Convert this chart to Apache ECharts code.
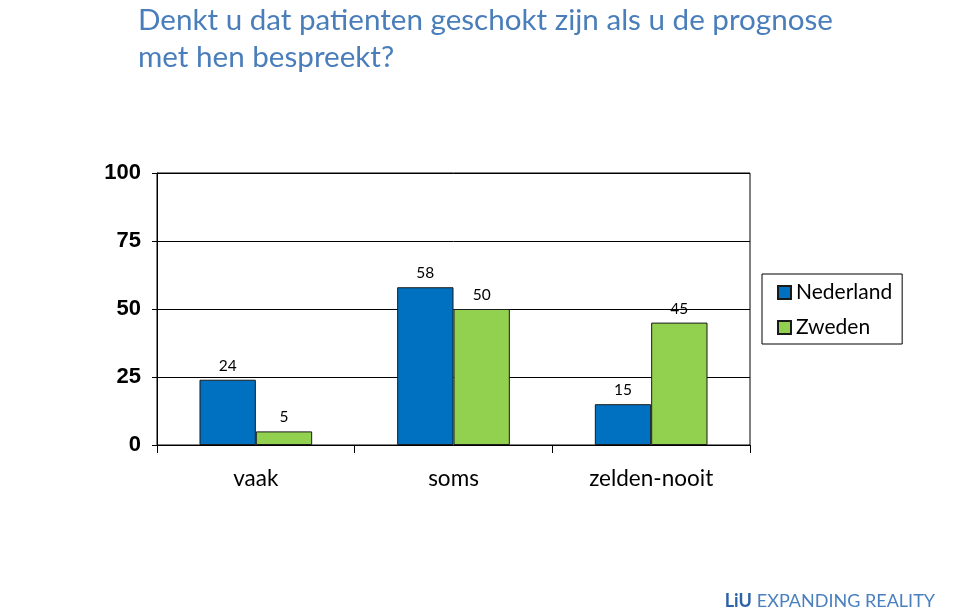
<!DOCTYPE html>
<html>
<head>
<meta charset="utf-8">
<script src="https://cdn.jsdelivr.net/npm/echarts@6/dist/echarts.min.js"></script>
<style>html,body{margin:0;padding:0;background:#fff}#c{width:960px;height:612px}</style>
</head>
<body>
<div id="c"></div>
<script>
const categories = ['vaak', 'soms', 'zelden-nooit'];
const nederland = [24, 58, 15];
const zweden = [5, 50, 45];
const seriesNames = ['Nederland', 'Zweden'];
const yTicks = [0, 25, 50, 75, 100];
const titleText = 'Denkt u dat patienten geschokt zijn als u de prognose\nmet hen bespreekt?';

const chart = echarts.init(document.getElementById('c'), null, {renderer: 'canvas'});
const labelStyle = {show: true, position: 'top', distance: 6, color: '#000', fontFamily: 'Lato', fontSize: 15.5};
chart.setOption({
  animation: false,
  backgroundColor: '#fff',
  title: [{
    text: titleText,
    left: 133, top: -3,
    textStyle: {color: '#4a7ebb', fontFamily: 'Lato', fontWeight: 'normal', fontSize: 29.6, lineHeight: 37}
  }, {
    text: '{a|LiU} {b|EXPANDING REALITY}',
    right: 20, bottom: -3,
    textStyle: {fontWeight: 'normal', rich: {
      a: {color: '#2c62a6', fontFamily: 'Lato', fontWeight: 'bold', fontSize: 18},
      b: {color: '#4a80bf', fontFamily: 'Lato', fontWeight: 'normal', fontSize: 18}
    }}
  }],
  legend: {
    orient: 'vertical', left: 762, top: 274,
    data: seriesNames,
    borderColor: '#000', borderWidth: 1,
    padding: [8, 10, 6, 15],
    itemWidth: 13, itemHeight: 13, itemGap: 14,
    icon: 'rect',
    textStyle: {fontFamily: 'Lato', fontSize: 21, color: '#000'}
  },
  grid: {left: 157, right: 210, top: 173, bottom: 167, show: true, borderColor: '#000', borderWidth: 1},
  xAxis: {
    type: 'category', data: categories,
    axisLine: {lineStyle: {color: '#000'}},
    axisTick: {show: true, length: 8, lineStyle: {color: '#000'}},
    axisLabel: {margin: 22, fontFamily: 'Lato', fontSize: 22.5, color: '#000'}
  },
  yAxis: {
    type: 'value', min: 0, max: 100, interval: 25,
    axisLine: {show: true, lineStyle: {color: '#000'}},
    axisTick: {show: true, length: 5, lineStyle: {color: '#000'}},
    splitLine: {lineStyle: {color: '#000', width: 1}},
    axisLabel: {margin: 16, fontFamily: 'Liberation Sans', fontWeight: 'bold', fontSize: 22, color: '#000',
      formatter: v => yTicks.includes(v) ? String(v) : ''}
  },
  series: [{
    name: seriesNames[0], type: 'bar', data: nederland,
    barGap: 0, barCategoryGap: '43%',
    itemStyle: {color: '#0070c0', borderColor: '#1a1a1a', borderWidth: 1},
    label: labelStyle
  }, {
    name: seriesNames[1], type: 'bar', data: zweden,
    itemStyle: {color: '#92d050', borderColor: '#1a1a1a', borderWidth: 1},
    label: labelStyle
  }]
});
</script>
</body>
</html>
